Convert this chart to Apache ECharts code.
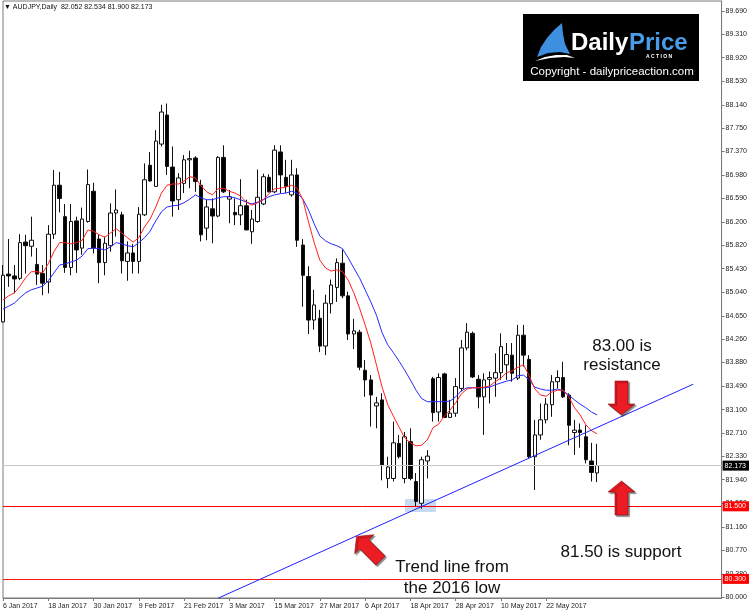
<!DOCTYPE html>
<html><head><meta charset="utf-8">
<script src="https://cdn.jsdelivr.net/npm/echarts@6/dist/echarts.min.js"></script>
<style>html,body{margin:0;padding:0;background:#fff}#c{width:750px;height:614px}</style>
</head><body><div id="c"></div>
<script>
// ---- categories (trading days) ----
const dates = [
'6 Jan 2017','9 Jan 2017','10 Jan 2017','11 Jan 2017','12 Jan 2017','13 Jan 2017','16 Jan 2017','17 Jan 2017','18 Jan 2017','19 Jan 2017','20 Jan 2017','23 Jan 2017','24 Jan 2017','25 Jan 2017','26 Jan 2017','27 Jan 2017','30 Jan 2017','31 Jan 2017',
'1 Feb 2017','2 Feb 2017','3 Feb 2017','6 Feb 2017','7 Feb 2017','8 Feb 2017','9 Feb 2017','10 Feb 2017','13 Feb 2017','14 Feb 2017','15 Feb 2017','16 Feb 2017','17 Feb 2017','20 Feb 2017','21 Feb 2017','22 Feb 2017','23 Feb 2017','24 Feb 2017','27 Feb 2017','28 Feb 2017',
'1 Mar 2017','2 Mar 2017','3 Mar 2017','6 Mar 2017','7 Mar 2017','8 Mar 2017','9 Mar 2017','10 Mar 2017','13 Mar 2017','14 Mar 2017','15 Mar 2017','16 Mar 2017','17 Mar 2017','20 Mar 2017','21 Mar 2017','22 Mar 2017','23 Mar 2017','24 Mar 2017','27 Mar 2017','28 Mar 2017','29 Mar 2017','30 Mar 2017','31 Mar 2017',
'3 Apr 2017','4 Apr 2017','5 Apr 2017','6 Apr 2017','7 Apr 2017','10 Apr 2017','11 Apr 2017','12 Apr 2017','13 Apr 2017','14 Apr 2017','17 Apr 2017','18 Apr 2017','19 Apr 2017','20 Apr 2017','21 Apr 2017','24 Apr 2017','25 Apr 2017','26 Apr 2017','27 Apr 2017','28 Apr 2017',
'1 May 2017','2 May 2017','3 May 2017','4 May 2017','5 May 2017','8 May 2017','9 May 2017','10 May 2017','11 May 2017','12 May 2017','15 May 2017','16 May 2017','17 May 2017','18 May 2017','19 May 2017','22 May 2017','23 May 2017','24 May 2017','25 May 2017','26 May 2017','29 May 2017','30 May 2017','31 May 2017',
'1 Jun 2017','2 Jun 2017'
];
const padSlots = 22; // empty space right of last bar (chart shift)

// ---- candles: [open, close, low, high] ----
const ohlc = [
[84.55,85.32,84.54,85.49],[85.34,85.31,85.13,85.92],[85.31,85.26,85.02,85.49],[85.27,85.86,85.24,86.00],[85.87,85.81,85.35,85.99],
[85.80,85.90,85.63,86.29],[85.50,85.34,85.16,85.77],[85.35,85.19,84.99,85.49],[85.21,86.00,85.02,86.15],[86.00,86.81,85.92,87.06],
[86.81,86.59,86.36,87.03],[86.29,85.45,85.36,86.50],[85.45,86.21,85.32,86.50],[86.22,85.74,85.36,86.29],[85.77,86.25,85.66,86.44],
[86.21,86.82,86.19,87.07],[86.71,85.77,85.68,86.85],[85.92,85.53,85.19,86.00],[85.53,85.85,85.32,85.96],[85.81,86.35,85.71,86.51],
[86.35,86.40,85.96,86.74],[86.32,85.56,85.35,86.37],[85.55,85.69,85.23,85.88],[85.69,85.55,85.35,85.84],[85.55,86.33,85.35,86.45],
[86.32,86.90,86.30,87.17],[87.14,86.88,86.87,87.36],[86.79,87.54,86.79,87.72],[87.49,88.02,87.45,88.14],[87.97,87.12,86.98,88.16],
[87.11,86.55,86.29,87.45],[86.57,86.93,86.40,87.01],[86.84,87.23,86.68,87.31],[87.23,87.25,86.76,87.38],[87.26,86.87,86.70,87.29],
[86.81,85.99,85.88,86.90],[86.10,86.45,85.90,86.57],[86.42,86.30,85.85,86.59],[86.30,87.27,86.28,87.29],[87.27,86.70,86.68,87.47],
[86.58,86.62,86.18,86.73],[86.36,86.32,86.15,86.59],[86.32,86.47,86.15,86.91],[86.47,86.07,86.07,86.57],[86.04,86.25,85.84,86.40],
[86.21,86.61,86.19,87.07],[86.50,86.95,86.48,87.00],[86.94,86.70,86.69,86.99],[86.70,87.39,86.68,87.47],[87.36,86.98,86.68,87.47],
[86.94,86.79,86.68,87.23],[86.65,86.98,86.62,87.23],[86.98,85.90,85.79,87.09],[85.82,85.32,84.80,85.92],[85.30,84.58,84.35,85.47],
[84.58,84.83,84.42,85.08],[84.61,84.15,84.05,84.75],[84.15,84.86,84.00,85.00],[84.85,85.16,84.69,85.25],[85.12,85.53,84.88,85.60],
[85.52,84.98,84.94,85.75],[84.98,84.35,84.25,85.05],[84.35,84.40,84.10,84.60],[84.38,83.80,83.75,84.42],[83.75,83.59,83.31,83.92],
[83.59,83.34,82.82,83.67],[83.16,83.21,82.79,83.31],[83.26,82.18,81.93,83.37],[81.96,82.15,81.80,82.32],[81.96,82.55,81.91,82.90],
[82.54,82.32,82.29,82.68],[81.96,82.65,81.88,82.73],[82.57,81.96,81.93,82.79],[81.91,81.58,81.49,82.05],[81.55,82.27,81.46,82.32],
[82.25,82.33,81.96,82.43],[83.61,83.05,82.90,83.64],[83.06,83.63,82.90,83.70],[83.69,82.97,82.96,83.71],[82.97,83.04,82.96,83.26],
[83.04,83.48,82.98,83.62],[83.45,84.12,83.40,84.25],[84.12,84.38,84.08,84.53],[84.36,83.64,83.62,84.39],[83.60,83.31,83.12,83.67],
[83.31,83.59,82.68,83.70],[83.60,83.63,83.20,83.73],[83.62,83.71,83.31,84.03],[83.71,84.14,83.59,84.36],[83.84,84.01,83.59,84.20],
[84.00,83.70,83.56,84.20],[83.62,84.33,83.59,84.50],[84.33,84.00,83.81,84.50],[83.93,82.32,82.29,84.00],[82.32,82.68,81.77,82.93],
[82.68,82.93,82.60,83.20],[82.93,83.19,82.87,83.29],[83.18,83.56,82.98,83.67],[83.56,83.63,83.45,83.75],[83.63,83.31,83.29,83.89],
[83.34,82.84,82.51,83.37],[82.72,82.76,82.35,82.93],[82.76,82.72,82.47,82.87],[82.65,82.27,82.21,82.84],[82.25,82.06,81.91,82.55],
[82.052,82.173,81.900,82.534]
];

// ---- moving averages ----
const maFast = [
84.91,84.98,85.03,85.14,85.28,85.38,85.38,85.36,85.51,85.71,85.86,85.86,85.84,85.86,85.90,86.07,86.05,85.99,85.95,86.02,
86.09,86.02,85.94,85.87,85.94,86.12,86.25,86.45,86.68,86.81,86.83,86.83,86.88,86.95,86.93,86.80,86.70,86.65,86.75,86.76,
86.71,86.68,86.63,86.53,86.48,86.52,86.57,86.67,86.75,86.76,86.78,86.81,86.76,86.57,86.20,85.86,85.57,85.44,85.39,85.41,
85.38,85.24,85.03,84.78,84.50,84.20,83.84,83.47,83.18,82.99,82.81,82.63,82.55,82.50,82.51,82.60,82.80,82.86,82.99,83.09,
83.21,83.36,83.44,83.46,83.46,83.47,83.49,83.56,83.62,83.71,83.74,83.80,83.84,83.66,83.44,83.34,83.32,83.39,83.42,83.42,
83.31,83.13,83.01,82.85,82.75,82.70
];
const maSlow = [
84.76,84.81,84.86,84.95,85.03,85.08,85.11,85.14,85.23,85.36,85.49,85.51,85.54,85.57,85.64,85.76,85.77,85.76,85.74,85.79,
85.86,85.84,85.81,85.79,85.86,85.94,86.05,86.22,86.37,86.45,86.47,86.48,86.52,86.58,86.65,86.60,86.57,86.57,86.60,86.62,
86.62,86.60,86.57,86.53,86.50,86.53,86.57,86.62,86.65,86.67,86.68,86.71,86.68,86.58,86.40,86.17,85.97,85.89,85.84,85.81,
85.76,85.61,85.44,85.28,85.08,84.88,84.66,84.37,84.17,84.04,83.90,83.75,83.59,83.42,83.28,83.23,83.23,83.23,83.23,83.24,
83.31,83.41,83.46,83.46,83.46,83.46,83.47,83.51,83.54,83.57,83.59,83.66,83.67,83.59,83.47,83.44,83.42,83.42,83.44,83.41,
83.34,83.26,83.19,83.13,83.06,83.01
];

// ---- trend line from the 2016 low: [category index, price] ----
const trendIdx = [38, 122];
const trendVal = [79.98, 83.52];

// ---- horizontal levels ----
const priceLevel = 82.173;
const supportLevel = 81.5;
const lowLevel = 80.3;

// ---- right axis tick labels ----
const yTicks = [80.000,80.380,80.770,81.160,81.550,81.940,82.330,82.710,83.100,83.490,83.880,84.260,84.650,85.040,85.430,85.820,86.200,86.590,86.980,87.370,87.750,88.140,88.530,88.920,89.310,89.690];

// ---------------------------------------------------------------
const FONT = '"Liberation Sans", Arial, sans-serif';
const cats = dates.concat(Array(padSlots).fill(''));
const isLabelIdx = (i) => i % 8 === 0 && i < dates.length;
const last = ohlc[ohlc.length - 1];
const titleText = '\u25BC AUDJPY,Daily  ' + [last[0], last[3], last[2], last[1]].map(v => v.toFixed(3)).join(' ');

function levelSeries(value, lineColor, boxColor, z) {
  return {
    type: 'line', data: [], z: z, color: lineColor,
    markLine: {
      silent: true, symbol: ['none', 'none'], precision: 3, animation: false,
      lineStyle: { color: lineColor, width: 1, type: 'solid', opacity: 1 },
      label: { show: true, position: 'end', distance: 1, formatter: (p) => p.value.toFixed(3),
        color: '#ffffff', backgroundColor: boxColor, fontSize: 7, fontFamily: FONT, padding: [2, 3, 1, 2] },
      emphasis: { disabled: true },
      data: [{ yAxis: value, lineStyle: { color: lineColor } }]
    }
  };
}

function arrow(tipX, tipY, rot) {
  return {
    type: 'polygon', x: tipX, y: tipY, rotation: rot, z: 50,
    shape: { points: [[0,0],[13.5,11],[6.5,11],[6.5,34],[-6.5,34],[-6.5,11],[-13.5,11]] },
    style: { fill: '#ec1c24', stroke: '#8a0a0a', lineWidth: 0.6,
      shadowColor: 'rgba(0,0,0,0.45)', shadowOffsetX: 1.5, shadowOffsetY: 1.5, shadowBlur: 1 }
  };
}
function label(text, cx, cy, size) {
  return { type: 'text', x: cx, y: cy, z: 50,
    style: { text: text, fill: '#111', font: size + 'px ' + FONT, textAlign: 'center', textVerticalAlign: 'middle' } };
}

const chart = echarts.init(document.getElementById('c'), null, { renderer: 'canvas', width: 750, height: 614 });
chart.setOption({
  animation: false,
  backgroundColor: '#ffffff',
  grid: { left: 1, right: 28, top: 1, bottom: 16, show: true, borderColor: '#7a7a7a', borderWidth: 1 },
  xAxis: {
    type: 'category', data: cats, boundaryGap: false,
    axisLine: { show: true, onZero: false, lineStyle: { color: '#7a7a7a' } },
    axisTick: { show: true, interval: (i) => isLabelIdx(i), length: 3, lineStyle: { color: '#7a7a7a' } },
    axisLabel: { interval: (i) => isLabelIdx(i), align: 'left', margin: 5, fontSize: 7, fontFamily: FONT, color: '#222',
      showMinLabel: true, showMaxLabel: false },
    splitLine: { show: false }
  },
  yAxis: {
    type: 'value', position: 'right', min: 79.984, max: 89.856,
    axisLine: { show: true, lineStyle: { color: '#7a7a7a' } },
    axisTick: { show: true, length: 3, customValues: yTicks, lineStyle: { color: '#7a7a7a' } },
    axisLabel: { customValues: yTicks, formatter: (v) => v.toFixed(3), fontSize: 7, fontFamily: FONT, color: '#222', margin: 4 },
    splitLine: { show: false }
  },
  series: [
    levelSeries(priceLevel, '#c8c8c8', '#000000', 2),
    levelSeries(supportLevel, '#ff0000', '#ff0000', 2),
    levelSeries(lowLevel, '#ff1a1a', '#ff0000', 20),
    {
      type: 'candlestick', data: ohlc, barWidth: 4, z: 3,
      itemStyle: { color: '#ffffff', color0: '#000000', borderColor: '#111', borderColor0: '#111', borderWidth: 1 }
    },
    { type: 'line', data: maSlow, symbol: 'none', z: 4, lineStyle: { color: '#2828ff', width: 1 } },
    { type: 'line', data: maFast, symbol: 'none', z: 4, lineStyle: { color: '#ff2020', width: 1 } },
    { type: 'line', data: trendIdx.map((x, k) => [x, trendVal[k]]), symbol: 'none', z: 5, clip: true,
      lineStyle: { color: '#2020ff', width: 1 } }
  ],
  graphic: [
    { type: 'text', x: 4, y: 7, z: 50, style: { text: titleText, fill: '#111', font: '7px ' + FONT, textVerticalAlign: 'middle' } },
    // highlight at the April low
    { type: 'rect', z: 1, shape: { x: 405, y: 499, width: 31, height: 13 }, style: { fill: 'rgba(175,205,235,0.7)' } },
    // logo
    { type: 'rect', z: 40, shape: { x: 523, y: 14, width: 176, height: 67 }, style: { fill: '#000' } },
    { type: 'polygon', z: 41, shape: { points: [[537,57],[541,47],[547,38],[554,30],[562,23],[563,34],[565,44],[570,54],[560,52],[548,53]] }, style: { fill: '#3f8fe0' } },
    { type: 'polygon', z: 41, shape: { points: [[535,61],[545,57],[556,55],[567,55],[575,58],[564,57],[550,58]] }, style: { fill: '#ffffff' } },
    { type: 'text', z: 41, x: 571, y: 43, style: { text: 'Daily', fill: '#fff', font: 'bold 24px ' + FONT, textVerticalAlign: 'middle' } },
    { type: 'text', z: 41, x: 629, y: 43, style: { text: 'Price', fill: '#4a9be8', font: 'bold 24px ' + FONT, textVerticalAlign: 'middle' } },
    { type: 'text', z: 41, x: 659, y: 57, style: { text: 'A C T I O N', fill: '#fff', font: 'bold 5px ' + FONT, textAlign: 'center', textVerticalAlign: 'middle' } },
    { type: 'text', z: 41, x: 612, y: 72, style: { text: 'Copyright - dailypriceaction.com', fill: '#fff', font: '11.5px ' + FONT, textAlign: 'center', textVerticalAlign: 'middle' } },
    // annotations
    label('83.00 is', 622, 346, 17),
    label('resistance', 622, 365, 17),
    arrow(621.5, 415, Math.PI),
    label('81.50 is support', 621, 552, 17),
    arrow(621.5, 481, 0),
    label('Trend line from', 452, 567, 17),
    label('the 2016 low', 452, 588, 17),
    arrow(356.5, 536.5, Math.PI / 4)
  ]
});
</script></body></html>
